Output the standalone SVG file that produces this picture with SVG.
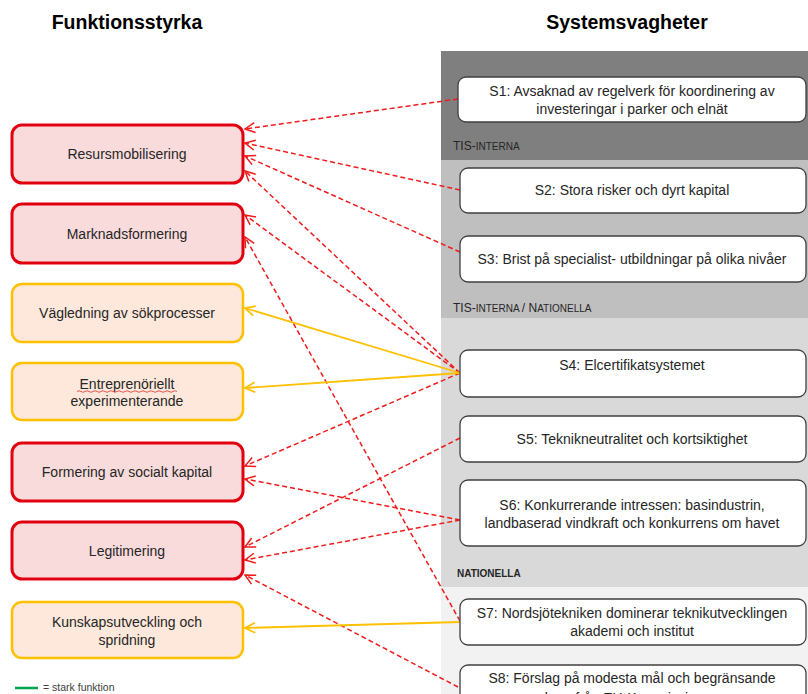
<svg xmlns="http://www.w3.org/2000/svg" width="808" height="694" viewBox="0 0 808 694">
<style>
  .title{font-family:"Liberation Sans",Arial,sans-serif;font-weight:bold;font-size:19.5px;fill:#000;text-anchor:middle}
  .lt{font-family:"Liberation Sans",Arial,sans-serif;font-size:14px;fill:#262626;text-anchor:middle}
  .rt{font-family:"Liberation Sans",Arial,sans-serif;font-size:14px;fill:#262626;text-anchor:middle}
  .band{font-family:"Liberation Sans",Arial,sans-serif;fill:#262626}
  .big{font-size:12px}
  .sm{font-size:10px}
  .red{fill:#f9dbdb;stroke:#e1000f;stroke-width:3}
  .yel{fill:#fde8db;stroke:#ffc000;stroke-width:2.5}
  .sbox{fill:#fff;stroke:#404040;stroke-width:1.3}
  .cr{fill:none;stroke:#f01c1c;stroke-width:1.5;stroke-dasharray:5 3;marker-end:url(#ar)}
  .cy{fill:none;stroke:#ffc000;stroke-width:1.8;marker-end:url(#ay)}
</style>
<defs>
  <marker id="ar" viewBox="0 0 12 12" refX="11" refY="6" markerWidth="12" markerHeight="12" markerUnits="userSpaceOnUse" orient="auto">
    <path d="M1,1 L11,6 L1,11" fill="none" stroke="#f01c1c" stroke-width="1.5"/>
  </marker>
  <marker id="ay" viewBox="0 0 12 12" refX="11" refY="6" markerWidth="12" markerHeight="12" markerUnits="userSpaceOnUse" orient="auto">
    <path d="M1,1 L11,6 L1,11" fill="none" stroke="#ffc000" stroke-width="1.8"/>
  </marker>
</defs>
<rect width="808" height="694" fill="#fff"/>

<text class="title" x="127" y="29">Funktionsstyrka</text>
<text class="title" x="627" y="29">Systemsvagheter</text>

<g id="panel">
  <rect x="441" y="51" width="367" height="109" fill="#7f7f7f"/>
  <rect x="441" y="160" width="367" height="158" fill="#bfbfbf"/>
  <rect x="441" y="318" width="367" height="269" fill="#d9d9d9"/>
  <rect x="441" y="587" width="367" height="107" fill="#f2f2f2"/>
  <text class="band" x="453" y="150"><tspan class="big">TIS-</tspan><tspan class="sm">INTERNA</tspan></text>
  <text class="band" x="453" y="312"><tspan class="big">TIS-</tspan><tspan class="sm">INTERNA </tspan><tspan class="big">/ N</tspan><tspan class="sm">ATIONELLA</tspan></text>
  <text class="band sm" x="457" y="577" font-weight="bold">NATIONELLA</text>
</g>

<g id="connectors">
  <path class="cr" d="M458,99 L245,129"/>
  <path class="cr" d="M460,190 L245,143"/>
  <path class="cr" d="M460,252 L245,156"/>
  <path class="cr" d="M460,373 L245,171"/>
  <path class="cr" d="M460,373 L245,215"/>
  <path class="cr" d="M460,621 L245,237"/>
  <path class="cr" d="M460,373 L245,466"/>
  <path class="cr" d="M460,520 L245,479"/>
  <path class="cr" d="M460,438 L245,547"/>
  <path class="cr" d="M460,520 L245,560"/>
  <path class="cr" d="M458,687 L245,575"/>
  <path class="cy" d="M460,373 L245,308"/>
  <path class="cy" d="M460,373 L245,388"/>
  <path class="cy" d="M460,622 L245,628"/>
</g>

<g id="f1"><rect class="red" x="12" y="125" width="231" height="58" rx="10"/><text class="lt" x="127" y="159">Resursmobilisering</text></g>
<g id="f2"><rect class="red" x="12" y="204" width="231" height="59" rx="10"/><text class="lt" x="127" y="239">Marknadsformering</text></g>
<g id="f3"><rect class="yel" x="12" y="284" width="231" height="58" rx="10"/><text class="lt" x="127" y="318">Vägledning av sökprocesser</text></g>
<g id="f4"><rect class="yel" x="12" y="363" width="231" height="57" rx="10"/><text class="lt" x="127" y="389">Entreprenöriellt</text><path d="M77,391.5 q2,-1.5 4,0 t4,0 t4,0 t4,0 t4,0 t4,0 t4,0 t4,0 t4,0 t4,0 t4,0 t4,0 t4,0 t4,0 t4,0 t4,0 t4,0 t4,0 t4,0 t4,0 t4,0 t4,0 t4,0 t4,0 t4,0" fill="none" stroke="#e03030" stroke-width="0.8"/><text class="lt" x="127" y="406">experimenterande</text></g>
<g id="f5"><rect class="red" x="12" y="443" width="231" height="58" rx="10"/><text class="lt" x="127" y="477">Formering av socialt kapital</text></g>
<g id="f6"><rect class="red" x="12" y="522" width="231" height="57" rx="10"/><text class="lt" x="127" y="556">Legitimering</text></g>
<g id="f7"><rect class="yel" x="12" y="602" width="231" height="56" rx="10"/><text class="lt" x="127" y="627">Kunskapsutveckling och</text><text class="lt" x="127" y="645">spridning</text></g>

<g id="s1"><rect class="sbox" x="458" y="77" width="348" height="45" rx="8"/><text class="rt" x="632" y="96">S1: Avsaknad av regelverk för koordinering av</text><text class="rt" x="632" y="114">investeringar i parker och elnät</text></g>
<g id="s2"><rect class="sbox" x="460" y="168" width="346" height="45" rx="8"/><text class="rt" x="632" y="195">S2: Stora risker och dyrt kapital</text></g>
<g id="s3"><rect class="sbox" x="460" y="236" width="346" height="46" rx="8"/><text class="rt" x="632" y="264">S3: Brist på specialist- utbildningar på olika nivåer</text></g>
<g id="s4"><rect class="sbox" x="460" y="350" width="346" height="47" rx="8"/><text class="rt" x="632" y="370">S4: Elcertifikatsystemet</text></g>
<g id="s5"><rect class="sbox" x="460" y="416" width="346" height="46" rx="8"/><text class="rt" x="632" y="444">S5: Teknikneutralitet och kortsiktighet</text></g>
<g id="s6"><rect class="sbox" x="460" y="480" width="346" height="66" rx="8"/><text class="rt" x="632" y="510">S6: Konkurrerande intressen: basindustrin,</text><text class="rt" x="632" y="528">landbaserad vindkraft och konkurrens om havet</text></g>
<g id="s7"><rect class="sbox" x="460" y="599" width="346" height="46" rx="8"/><text class="rt" x="632" y="618">S7: Nordsjötekniken dominerar teknikutvecklingen</text><text class="rt" x="632" y="636">akademi och institut</text></g>
<g id="s8"><rect class="sbox" x="460" y="665" width="346" height="50" rx="8"/><text class="rt" x="632" y="683">S8: Förslag på modesta mål och begränsande</text><text class="rt" x="632" y="703">krav från EU-Kommissionen</text></g>

<g id="legend">
  <line x1="15" y1="688" x2="38" y2="688" stroke="#00a651" stroke-width="2.5"/>
  <text x="43" y="691" font-family="Liberation Sans, Arial, sans-serif" font-size="10.5" fill="#404040">= stark funktion</text>
</g>
</svg>
